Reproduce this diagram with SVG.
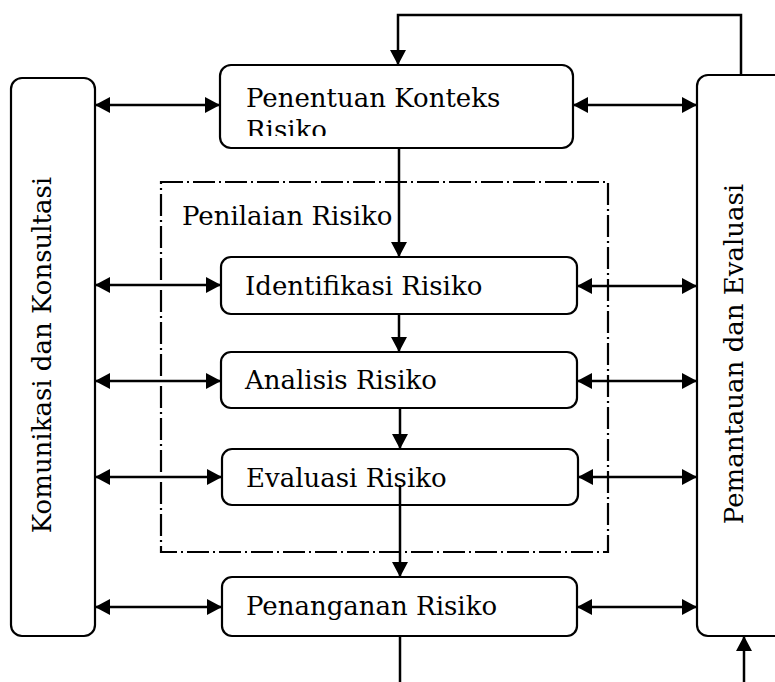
<svg xmlns="http://www.w3.org/2000/svg" width="775" height="682" viewBox="0 0 775 682">
  <defs>
    <marker id="ah" markerUnits="userSpaceOnUse" markerWidth="15" markerHeight="16" refX="15" refY="8" orient="auto-start-reverse">
      <path d="M0,0 L15,8 L0,16 z" fill="#000"/>
    </marker>
    <clipPath id="clipPK">
      <rect x="220" y="65" width="353" height="71"/>
    </clipPath>
  </defs>
  <style>
    .box { fill: #fff; stroke: #000; stroke-width: 2.2; }
    .dash { fill: none; stroke: #000; stroke-width: 2.2; stroke-dasharray: 22 4 2 4; }
    .lbl { font-family: "DejaVu Serif", "Liberation Serif", serif; font-size: 26px; fill: #000; }
    .vlbl { font-family: "DejaVu Serif", "Liberation Serif", serif; font-size: 26px; fill: #000; text-anchor: middle; }
    .con { fill: none; stroke: #000; stroke-width: 2.5; }
    .arr { marker-end: url(#ah); }
    .darr { marker-start: url(#ah); marker-end: url(#ah); }
  </style>
  <rect width="775" height="682" fill="#fff"/>

  <g id="penilaian-risiko">
    <rect class="dash" x="161" y="182" width="447" height="370"/>
    <text class="lbl" x="182" y="225">Penilaian Risiko</text>
  </g>

  <g id="komunikasi">
    <rect class="box" x="11" y="78" width="84" height="558" rx="11"/>
    <text class="vlbl" transform="translate(51,355) rotate(-90)">Komunikasi dan Konsultasi</text>
  </g>

  <g id="pemantauan">
    <rect class="box" x="697" y="75" width="100" height="561" rx="11"/>
    <text class="vlbl" transform="translate(743,354) rotate(-90)">Pemantauan dan Evaluasi</text>
  </g>

  <g id="penentuan-konteks">
    <rect class="box" x="220" y="65" width="353" height="83" rx="11"/>
    <text class="lbl" x="246" y="107">Penentuan Konteks</text>
    <text class="lbl" x="246" y="139" clip-path="url(#clipPK)">Risiko</text>
  </g>

  <g id="identifikasi">
    <rect class="box" x="221" y="257" width="356" height="57" rx="10"/>
    <text class="lbl" x="245" y="295">Identifikasi Risiko</text>
  </g>

  <g id="analisis">
    <rect class="box" x="221" y="352" width="356" height="56" rx="10"/>
    <text class="lbl" x="245" y="389">Analisis Risiko</text>
  </g>

  <g id="evaluasi">
    <rect class="box" x="222" y="449" width="356" height="56" rx="10"/>
    <text class="lbl" x="246" y="487">Evaluasi Risiko</text>
  </g>

  <g id="penanganan">
    <rect class="box" x="222" y="577" width="355" height="59" rx="10"/>
    <text class="lbl" x="246" y="615">Penanganan Risiko</text>
  </g>

  <g id="connectors">
    <path class="con arr" d="M741,75 L741,15 L398,15 L398,65"/>
    <path class="con arr" d="M399,148 L399,257"/>
    <path class="con arr" d="M399,314 L399,352"/>
    <path class="con arr" d="M400,408 L400,449"/>
    <path class="con arr" d="M400,485 L400,577"/>
    <path class="con" d="M400,636 L400,682"/>
    <path class="con arr" d="M744,682 L744,636"/>
    <path class="con darr" d="M95,105 L220,105"/>
    <path class="con darr" d="M95,285 L221,285"/>
    <path class="con darr" d="M95,381 L221,381"/>
    <path class="con darr" d="M95,477 L222,477"/>
    <path class="con darr" d="M95,607 L222,607"/>
    <path class="con darr" d="M573,105 L697,105"/>
    <path class="con darr" d="M577,286 L697,286"/>
    <path class="con darr" d="M577,381 L697,381"/>
    <path class="con darr" d="M578,477 L697,477"/>
    <path class="con darr" d="M577,607 L697,607"/>
  </g>
</svg>
